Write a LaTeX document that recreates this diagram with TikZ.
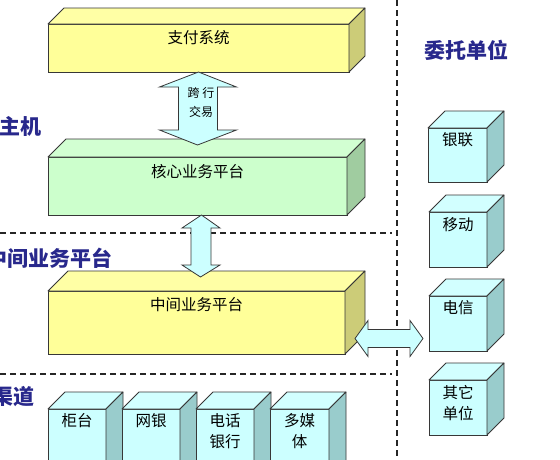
\documentclass[tikz,border=0pt]{standalone}
\usepackage{fontspec}
\newfontfamily\cjk{Noto Sans CJK SC}
\definecolor{edgec}{RGB}{55,55,55}
\definecolor{titleblue}{RGB}{40,40,140}
\definecolor{yfront}{RGB}{255,255,153}
\definecolor{ytop}{RGB}{255,255,165}
\definecolor{yside}{RGB}{204,204,120}
\definecolor{gfront}{RGB}{204,255,204}
\definecolor{gtop}{RGB}{210,255,210}
\definecolor{gside}{RGB}{160,204,160}
\definecolor{cfront}{RGB}{204,255,255}
\definecolor{ctop}{RGB}{210,255,255}
\definecolor{cside}{RGB}{153,204,204}
\definecolor{arrowc}{RGB}{204,255,255}
\newcommand\mkcube[9]{%
  \node[face, fill=#7, minimum width=#4pt, minimum height=#5pt, anchor=north west] (#1) at (#2,#3) {};
  \draw[edge, fill=#9] (#1.north west) -- ++(#6,-#6) -- ++(#4,0) -- (#1.north east) -- cycle;
  \draw[edge, fill=#8] (#1.north east) -- ++(#6,-#6) -- ++(0,#5) -- (#1.south east) -- cycle;
}
\begin{document}
\begin{tikzpicture}[x=1pt,y=-1pt,
  face/.style={draw=edgec, line width=0.8pt, inner sep=0pt, outer sep=0pt},
  edge/.style={draw=edgec, line width=0.8pt, line join=round},
  lbl/.style={font=\cjk\fontsize{15.5}{21}\selectfont, inner sep=0pt, anchor=north, align=center},
  smalllbl/.style={font=\cjk\fontsize{12}{19}\selectfont, inner sep=0pt, align=center},
  head/.style={font=\cjk\bfseries\fontsize{21}{24}\selectfont, text=titleblue, inner sep=0pt},
  arr/.style={draw=edgec, fill=arrowc, line width=0.8pt, line join=miter},
  dashline/.style={line width=1.3pt, dash pattern=on 6pt off 4pt, draw=black!85}]
\path[use as bounding box, clip] (0,0) rectangle (560,459);
\fill[white] (0,0) rectangle (560,459);

% dashed separators
\coordinate (h1a) at (0,233);  \coordinate (h1b) at (392,233);
\coordinate (h2a) at (0,374);  \coordinate (h2b) at (392,374);
\coordinate (v1a) at (397,0);  \coordinate (v1b) at (397,459);
\draw[dashline] (h1a) -- (h1b);
\draw[dashline] (h2a) -- (h2b);
\draw[dashline] (v1a) -- (v1b);

% section titles
\node[head] (tmain) at (20,126) {主机};
\node[head] (tmid) at (50,258) {中间业务平台};
\node[head] (tchan) at (14,397) {渠道};
\node[head] (tent) at (466,50) {委托单位};

% big boxes
\mkcube{pay}{48}{24}{301}{48}{16}{yfront}{yside}{ytop}
\node[lbl] (paytxt) at ([yshift=-6.5pt]pay.north) {支付系统};
\mkcube{core}{48}{157}{299}{58}{18}{gfront}{gside}{gtop}
\node[lbl] (coretxt) at ([yshift=-7.5pt]core.north) {核心业务平台};
\mkcube{mid}{48}{291}{297}{63}{20}{yfront}{yside}{ytop}
\node[lbl] (midtxt) at ([yshift=-6.5pt]mid.north) {中间业务平台};

% client boxes
\mkcube{yl}{428}{128}{59}{54}{17}{cfront}{cside}{ctop}
\node[lbl] (yltxt) at ([yshift=-4.5pt]yl.north) {银联};
\mkcube{yd}{429}{212}{58}{55}{17}{cfront}{cside}{ctop}
\node[lbl] (ydtxt) at ([yshift=-5.5pt]yd.north) {移动};
\mkcube{dx}{429}{296}{58}{55}{17}{cfront}{cside}{ctop}
\node[lbl] (dxtxt) at ([yshift=-4.5pt]dx.north) {电信};
\mkcube{qt}{429}{380}{58}{55}{17}{cfront}{cside}{ctop}
\node[lbl] (qttxt) at ([yshift=-5.5pt]qt.north) {其它\\单位};

% channel boxes
\mkcube{gt}{48}{409}{58}{70}{17}{cfront}{cside}{ctop}
\node[lbl] (gttxt) at ([yshift=-4.5pt]gt.north) {柜台};
\mkcube{wy}{122}{409}{58}{70}{17}{cfront}{cside}{ctop}
\node[lbl] (wytxt) at ([yshift=-4.5pt]wy.north) {网银};
\mkcube{dh}{196}{409}{58}{70}{17}{cfront}{cside}{ctop}
\node[lbl] (dhtxt) at ([yshift=-4.5pt]dh.north) {电话\\银行};
\mkcube{dm}{270}{409}{59}{70}{17}{cfront}{cside}{ctop}
\node[lbl] (dmtxt) at ([yshift=-4.5pt]dm.north) {多媒\\体};

% arrow pay <-> core
\coordinate (a1t) at (pay.south);
\coordinate (a1b) at ([yshift=12pt]core.north);
\draw[arr] (a1t) -- ++(38,15) -- ++(-19,0) -- ++(0,43) -- ++(19,0) -- (a1b)
  -- ++(-38,-15) -- ++(19,0) -- ++(0,-43) -- ++(-19,0) -- cycle;
\node[smalllbl] (kh) at (201,102.5) {跨 行\\交易};

% arrow core <-> mid
\coordinate (a2t) at ([xshift=4pt]core.south);
\coordinate (a2b) at ([xshift=4pt,yshift=14pt]mid.north);
\draw[arr] (a2t) -- ++(18.5,13) -- ++(-9,0) -- ++(0,37) -- ++(9,0) -- (a2b)
  -- ++(-18.5,-12) -- ++(9,0) -- ++(0,-37) -- ++(-9,0) -- cycle;

% arrow mid <-> dx
\coordinate (a3l) at ([xshift=10pt,yshift=-16pt]mid.east);
\coordinate (a3r) at ([xshift=-6pt]dx.west|-a3l);
\draw[arr] (a3l) -- ++(13,-18) -- ++(0,9) -- ++(42,0) -- ++(0,-9) -- (a3r)
  -- ++(-13,18) -- ++(0,-9) -- ++(-42,0) -- ++(0,9) -- cycle;
\end{tikzpicture}
\end{document}
